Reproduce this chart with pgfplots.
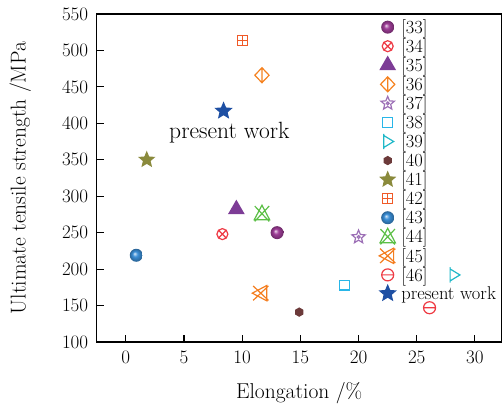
\documentclass[border=0pt]{standalone}
\usepackage{pgfplots}
\pgfplotsset{compat=1.18}
\usetikzlibrary{shadings}
\definecolor{c33}{HTML}{9E3D97}
\definecolor{c34}{HTML}{EE3A45}
\definecolor{c35}{HTML}{7D3C96}
\definecolor{c36}{HTML}{F58220}
\definecolor{c37}{HTML}{9C6FB6}
\definecolor{c38}{HTML}{29B6E8}
\definecolor{c39}{HTML}{1FB8C8}
\definecolor{c40}{HTML}{6C3A3A}
\definecolor{c41}{HTML}{8A8A3C}
\definecolor{c42}{HTML}{F05A28}
\definecolor{c43}{HTML}{3A8ED6}
\definecolor{c44}{HTML}{5CBF46}
\definecolor{c45}{HTML}{F47E20}
\definecolor{c46}{HTML}{EE3A43}
\definecolor{cpw}{HTML}{1E4FA3}
\pgfdeclareradialshading{ballP}{\pgfpoint{-7bp}{7bp}}{color(0bp)=(c33!20!white); color(10bp)=(c33); color(22bp)=(c33!75!black); color(30bp)=(c33!60!black)}
\pgfdeclareradialshading{ballB}{\pgfpoint{-7bp}{7bp}}{color(0bp)=(c43!20!white); color(10bp)=(c43); color(22bp)=(c43!75!black); color(30bp)=(c43!60!black)}
\pgfdeclareplotmark{ballP}{\pgfpathcircle{\pgfpointorigin}{\pgfplotmarksize}\pgfshadepath{ballP}{0}\pgfusepath{discard}}
\pgfdeclareplotmark{ballB}{\pgfpathcircle{\pgfpointorigin}{\pgfplotmarksize}\pgfshadepath{ballB}{0}\pgfusepath{discard}}
\def\starpath{%
  \pgfpathmoveto{\pgfpointpolar{90}{\pgfplotmarksize}}%
  \pgfpathlineto{\pgfpointpolar{126}{0.45\pgfplotmarksize}}%
  \pgfpathlineto{\pgfpointpolar{162}{\pgfplotmarksize}}%
  \pgfpathlineto{\pgfpointpolar{198}{0.45\pgfplotmarksize}}%
  \pgfpathlineto{\pgfpointpolar{234}{\pgfplotmarksize}}%
  \pgfpathlineto{\pgfpointpolar{270}{0.45\pgfplotmarksize}}%
  \pgfpathlineto{\pgfpointpolar{306}{\pgfplotmarksize}}%
  \pgfpathlineto{\pgfpointpolar{342}{0.45\pgfplotmarksize}}%
  \pgfpathlineto{\pgfpointpolar{18}{\pgfplotmarksize}}%
  \pgfpathlineto{\pgfpointpolar{54}{0.45\pgfplotmarksize}}%
  \pgfpathclose}
\pgfdeclareplotmark{starF}{\starpath\pgfusepathqfillstroke}
\pgfdeclareplotmark{starO}{\starpath\pgfpathcircle{\pgfpointorigin}{0.2\pgfplotmarksize}\pgfusepathqstroke}
\pgfdeclareplotmark{cminus}{%
  \pgfpathcircle{\pgfpointorigin}{\pgfplotmarksize}%
  \pgfpathmoveto{\pgfqpoint{-\pgfplotmarksize}{0pt}}\pgfpathlineto{\pgfqpoint{\pgfplotmarksize}{0pt}}%
  \pgfusepathqstroke}
\pgfdeclareplotmark{diaBar}{%
  \pgfpathmoveto{\pgfqpoint{0pt}{\pgfplotmarksize}}%
  \pgfpathlineto{\pgfqpoint{0.95\pgfplotmarksize}{0pt}}%
  \pgfpathlineto{\pgfqpoint{0pt}{-\pgfplotmarksize}}%
  \pgfpathlineto{\pgfqpoint{-0.95\pgfplotmarksize}{0pt}}%
  \pgfpathclose
  \pgfpathmoveto{\pgfqpoint{0pt}{\pgfplotmarksize}}%
  \pgfpathlineto{\pgfqpoint{0pt}{-\pgfplotmarksize}}%
  \pgfusepathqstroke}
\pgfdeclareplotmark{triR}{%
  \pgfpathmoveto{\pgfqpoint{-0.55\pgfplotmarksize}{0.85\pgfplotmarksize}}%
  \pgfpathlineto{\pgfqpoint{0.85\pgfplotmarksize}{0pt}}%
  \pgfpathlineto{\pgfqpoint{-0.55\pgfplotmarksize}{-0.85\pgfplotmarksize}}%
  \pgfpathclose
  \pgfpathmoveto{\pgfqpoint{-0.55\pgfplotmarksize}{1.1\pgfplotmarksize}}%
  \pgfpathlineto{\pgfqpoint{-0.55\pgfplotmarksize}{-1.1\pgfplotmarksize}}%
  \pgfusepathqstroke}
\pgfdeclareplotmark{hexF}{%
  \pgfpathmoveto{\pgfpointpolar{30}{\pgfplotmarksize}}%
  \pgfpathlineto{\pgfpointpolar{90}{\pgfplotmarksize}}%
  \pgfpathlineto{\pgfpointpolar{150}{\pgfplotmarksize}}%
  \pgfpathlineto{\pgfpointpolar{210}{\pgfplotmarksize}}%
  \pgfpathlineto{\pgfpointpolar{270}{\pgfplotmarksize}}%
  \pgfpathlineto{\pgfpointpolar{330}{\pgfplotmarksize}}%
  \pgfpathclose\pgfusepathqfillstroke}
\pgfdeclareplotmark{sqPlus}{%
  \pgfpathrectanglecorners{\pgfqpoint{-\pgfplotmarksize}{-\pgfplotmarksize}}{\pgfqpoint{\pgfplotmarksize}{\pgfplotmarksize}}%
  \pgfpathmoveto{\pgfqpoint{0pt}{-\pgfplotmarksize}}\pgfpathlineto{\pgfqpoint{0pt}{\pgfplotmarksize}}%
  \pgfpathmoveto{\pgfqpoint{-\pgfplotmarksize}{0pt}}\pgfpathlineto{\pgfqpoint{\pgfplotmarksize}{0pt}}%
  \pgfusepathqstroke}
\pgfdeclareplotmark{triX}{%
  \pgfpathmoveto{\pgfqpoint{0pt}{\pgfplotmarksize}}%
  \pgfpathlineto{\pgfqpoint{0.9\pgfplotmarksize}{-0.7\pgfplotmarksize}}%
  \pgfpathlineto{\pgfqpoint{-0.9\pgfplotmarksize}{-0.7\pgfplotmarksize}}%
  \pgfpathclose
  \pgfpathmoveto{\pgfqpoint{-0.85\pgfplotmarksize}{0.9\pgfplotmarksize}}\pgfpathlineto{\pgfqpoint{0.85\pgfplotmarksize}{-0.9\pgfplotmarksize}}%
  \pgfpathmoveto{\pgfqpoint{0.85\pgfplotmarksize}{0.9\pgfplotmarksize}}\pgfpathlineto{\pgfqpoint{-0.85\pgfplotmarksize}{-0.9\pgfplotmarksize}}%
  \pgfusepathqstroke}
\pgfdeclareplotmark{triLX}{%
  \pgfpathmoveto{\pgfqpoint{-\pgfplotmarksize}{0pt}}%
  \pgfpathlineto{\pgfqpoint{0.7\pgfplotmarksize}{0.9\pgfplotmarksize}}%
  \pgfpathlineto{\pgfqpoint{0.7\pgfplotmarksize}{-0.9\pgfplotmarksize}}%
  \pgfpathclose
  \pgfpathmoveto{\pgfqpoint{-0.9\pgfplotmarksize}{0.85\pgfplotmarksize}}\pgfpathlineto{\pgfqpoint{0.9\pgfplotmarksize}{-0.85\pgfplotmarksize}}%
  \pgfpathmoveto{\pgfqpoint{0.9\pgfplotmarksize}{0.85\pgfplotmarksize}}\pgfpathlineto{\pgfqpoint{-0.9\pgfplotmarksize}{-0.85\pgfplotmarksize}}%
  \pgfusepathqstroke}
\begin{document}
\begin{tikzpicture}
\begin{axis}[
  scale only axis, width=405pt, height=328pt,
  xmin=-2.5, xmax=32.3, ymin=100, ymax=550,
  xtick={0,5,...,30}, ytick={100,150,...,550},
  tick pos=left, tick align=inside, major tick length=7pt,
  axis line style={line width=1.1pt},
  every tick/.style={line width=1.1pt, black},
  /pgf/number format/assume math mode=true,
  tick label style={font=\fontsize{19}{22}\selectfont},
  xticklabel style={yshift=-5pt},
  yticklabel style={xshift=-5pt},
  label style={font=\fontsize{21.5}{24}\selectfont},
  xlabel={Elongation /\%}, ylabel={Ultimate tensile strength /MPa},
  xlabel style={at={(axis description cs:0.5,-0.155)}, anchor=center},
  ylabel style={at={(axis description cs:-0.189,0.5)}, anchor=center, rotate=0},
  legend style={draw=none, fill=none, at={(rel axis cs:0.697,0.99)}, anchor=north west,
    font=\fontsize{18.5}{20}\selectfont, row sep=-0.3pt, column sep=4pt, inner sep=0pt},
  legend cell align=left,
  every axis plot/.append style={line width=1.2pt},
]
\addplot[only marks, mark=ballP, mark size=6.5pt] coordinates {(13.0,250)}; \addlegendentry{[33]}
\addplot[only marks, color=c34, mark=otimes, mark size=5.5pt] coordinates {(8.3,248)}; \addlegendentry{[34]}
\addplot[only marks, color=c35, mark=triangle*, mark size=8.5pt, mark options={fill=c35}] coordinates {(9.5,282)}; \addlegendentry{[35]}
\addplot[only marks, color=c36, mark=diaBar, mark size=7.5pt] coordinates {(11.7,466)}; \addlegendentry{[36]}
\addplot[only marks, color=c37, mark=starO, mark size=7pt] coordinates {(20.0,244)}; \addlegendentry{[37]}
\addplot[only marks, color=c38, mark=square, mark size=4.8pt] coordinates {(18.8,178)}; \addlegendentry{[38]}
\addplot[only marks, color=c39, mark=triR, mark size=7pt] coordinates {(28.2,192)}; \addlegendentry{[39]}
\addplot[only marks, color=c40, mark=hexF, mark size=4pt, mark options={fill=c40}] coordinates {(14.9,141)}; \addlegendentry{[40]}
\addplot[only marks, color=c41, mark=starF, mark size=7.5pt, mark options={fill=c41}] coordinates {(1.8,350)}; \addlegendentry{[41]}
\addplot[only marks, color=c42, mark=sqPlus, mark size=5pt] coordinates {(10.0,514)}; \addlegendentry{[42]}
\addplot[only marks, mark=ballB, mark size=6.5pt] coordinates {(0.9,219)}; \addlegendentry{[43]}
\addplot[only marks, color=c44, mark=triX, mark size=8.5pt] coordinates {(11.7,276)}; \addlegendentry{[44]}
\addplot[only marks, color=c45, mark=triLX, mark size=8.5pt] coordinates {(11.6,167)}; \addlegendentry{[45]}
\addplot[only marks, color=c46, mark=cminus, mark size=6pt] coordinates {(26.1,147)}; \addlegendentry{[46]}
\addplot[only marks, color=cpw, mark=starF, mark size=8pt, mark options={fill=cpw}] coordinates {(8.4,417)}; \addlegendentry{present work}
\node[font=\fontsize{23.5}{26}\selectfont] at (axis cs:8.9,387) {present work};
\end{axis}
\pgfresetboundingbox
\path (-96.7pt,-67pt) rectangle (406.3pt,342pt);
\end{tikzpicture}
\end{document}
